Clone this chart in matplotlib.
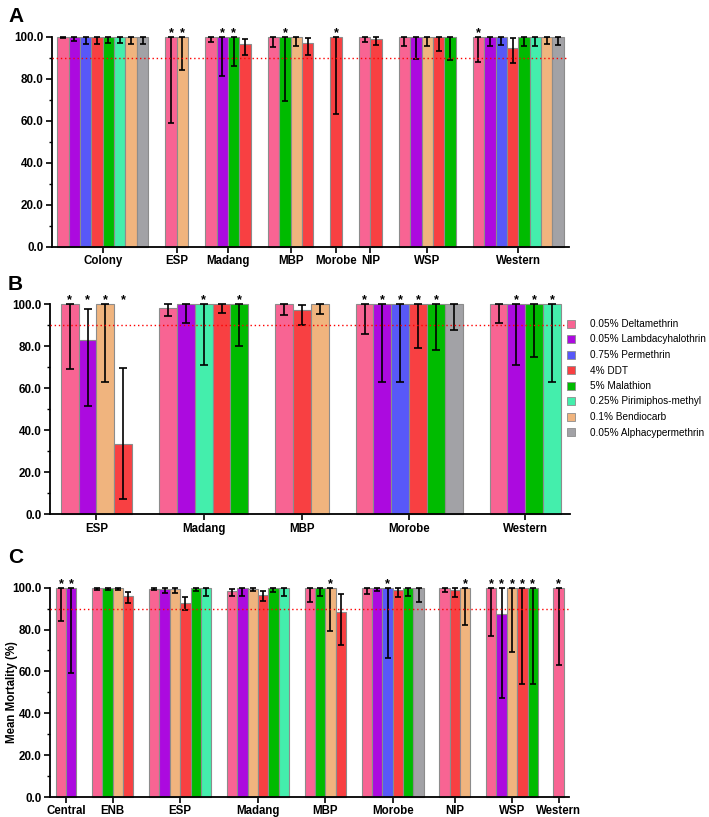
import matplotlib
matplotlib.use('Agg')
import matplotlib.pyplot as plt
from matplotlib.lines import Line2D
from matplotlib.ticker import MultipleLocator, FormatStrFormatter

plt.rcParams['font.family'] = ['Liberation Sans', 'DejaVu Sans']

insecticides = ['0.05% Deltamethrin', '0.05% Lambdacyhalothrin', '0.75% Permethrin',
                '4% DDT', '5% Malathion', '0.25% Pirimiphos-methyl',
                '0.1% Bendiocarb', '0.05% Alphacypermethrin']
colors = ['#F86493', '#AC0ADF', '#5858F8', '#F84042', '#00BB00', '#44EEAC',
          '#F0B47E', '#A2A2A6']

# indices into insecticides: 0 Delta 1 Lambda 2 Perm 3 DDT 4 Mal 5 Piri 6 Bend 7 Alpha
A_groups = ['Colony', 'ESP', 'Madang', 'MBP', 'Morobe', 'NIP', 'WSP', 'Western']
A_ins = [[0, 1, 2, 3, 4, 5, 6, 7], [0, 6], [0, 1, 4, 3], [0, 4, 6, 3], [3], [0, 3],
         [0, 1, 6, 3, 4], [0, 1, 2, 3, 4, 5, 6, 7]]
A_mean = [[100, 100, 100, 100, 100, 100, 100, 100], [100, 100], [100, 100, 100, 96.4],
          [100, 100, 100, 96.8], [100], [100, 99.0], [100, 100, 100, 100, 100],
          [100, 100, 100, 94.4, 100, 100, 100, 100]]
A_lo = [[99.2, 97.8, 96.5, 96.5, 96.8, 97.1, 96.3, 96.5], [59.0, 84.0], [97.5, 81.4, 86.2, 91.1],
        [95.2, 69.2, 95.6, 91.1], [63.0], [97.3, 96.0], [95.6, 89.4, 95.7, 93.0, 88.9],
        [87.8, 95.7, 95.9, 87.6, 95.6, 95.6, 96.5, 96.0]]
A_hi = [[100] * 8, [100, 100], [100, 100, 100, 99.0], [100, 100, 100, 99.2], [100], [100, 100],
        [100] * 5, [100, 100, 100, 99.2, 100, 100, 100, 100]]
A_star = [[0] * 8, [1, 1], [0, 1, 1, 0], [0, 1, 0, 0], [1], [0, 0], [0] * 5,
          [1, 0, 0, 0, 0, 0, 0, 0]]

B_groups = ['ESP', 'Madang', 'MBP', 'Morobe', 'Western']
B_ins = [[0, 1, 6, 3], [0, 1, 5, 3, 4], [0, 3, 6], [0, 1, 2, 3, 4, 7], [0, 1, 4, 5]]
B_mean = [[100, 83.2, 100, 33.3], [98.4, 100, 100, 100, 100], [100, 97.3, 100],
          [100] * 6, [100] * 4]
B_lo = [[69.0, 51.6, 63.0, 7.5], [94.3, 91.0, 71.3, 95.7, 80.2], [94.8, 90.3, 95.2],
        [85.7, 62.9, 62.9, 79.2, 78.1, 87.6], [91.3, 71.3, 75.1, 62.9]]
B_hi = [[100, 97.8, 100, 69.8], [100] * 5, [100, 99.6, 100], [100] * 6, [100] * 4]
B_star = [[1, 1, 1, 1], [0, 0, 1, 0, 1], [0, 0, 0], [1, 1, 1, 1, 1, 0], [0, 1, 1, 1]]

C_groups = ['Central', 'ENB', 'ESP', 'Madang', 'MBP', 'Morobe', 'NIP', 'WSP', 'Western']
C_ins = [[0, 1], [0, 4, 6, 3], [0, 1, 6, 3, 4, 5], [0, 1, 6, 3, 4, 5], [0, 4, 6, 3],
         [0, 1, 2, 3, 4, 7], [0, 3, 6], [0, 1, 6, 3, 4], [0]]
C_mean = [[100, 100], [100, 100, 100, 96.0], [99.5, 99.2, 99.4, 92.8, 100, 100],
          [98.3, 100, 99.6, 96.3, 100, 100], [100, 100, 100, 88.4],
          [100, 100, 100, 98.9, 100, 100], [100, 98.9, 100], [100, 87.6, 100, 100, 100], [100]]
C_lo = [[83.9, 59.1], [98.9, 98.9, 98.9, 92.7], [98.7, 97.3, 97.6, 89.2, 98.6, 96.2],
        [95.9, 96.0, 98.4, 93.5, 97.8, 96.0], [93.2, 95.9, 79.5, 72.6],
        [97.0, 98.6, 66.4, 95.5, 96.0, 93.0], [98.1, 95.4, 82.2],
        [76.8, 47.3, 69.1, 54.0, 54.0], [63.1]]
C_hi = [[100, 100], [100, 100, 100, 98.1], [100, 100, 100, 95.4, 100, 100],
        [99.5, 100, 100, 98.4, 100, 100], [100, 100, 100, 96.8],
        [100, 100, 100, 99.8, 100, 100], [100, 99.8, 100], [100] * 5, [100]]
C_star = [[1, 1], [0] * 4, [0] * 6, [0] * 6, [0, 0, 1, 0], [0, 0, 1, 0, 0, 0], [0, 0, 1],
          [1] * 5, [1]]


def draw_panel(ax, groups, ins, mean, lo, hi, star, off_l, off_r, capsize):
    cur = 0.0
    centers = []
    for g in range(len(groups)):
        xs = [cur + i + 0.5 for i in range(len(ins[g]))]
        cols = [colors[k] for k in ins[g]]
        ax.bar(xs, mean[g], width=1.0, color=cols, edgecolor='#8c8c8c', linewidth=0.8,
               zorder=2, clip_on=False)
        ax.errorbar(xs, mean[g],
                    yerr=[[m - l for m, l in zip(mean[g], lo[g])],
                          [h - m for m, h in zip(mean[g], hi[g])]],
                    fmt='none', ecolor='black', elinewidth=1.2, capsize=capsize,
                    capthick=1.2, zorder=3, clip_on=False)
        for x, s in zip(xs, star[g]):
            if s:
                ax.text(x, 100.3, '*', ha='center', va='baseline', fontsize=9,
                        fontweight='bold', clip_on=False)
        centers.append(cur + len(ins[g]) / 2)
        cur += len(ins[g]) + 1.5
    end = cur - 1.5
    ax.axhline(90, color='red', ls=(0, (1, 2)), lw=1.0, zorder=4)
    ax.set_xlim(-off_l, end + off_r)
    ax.set_ylim(0, 100)
    ax.set_xticks(centers)
    ax.set_xticklabels(groups, fontsize=8.3, fontweight='bold')
    ax.yaxis.set_major_locator(MultipleLocator(20))
    ax.yaxis.set_minor_locator(MultipleLocator(10))
    ax.yaxis.set_major_formatter(FormatStrFormatter('%.1f'))
    for t in ax.get_yticklabels():
        t.set_fontweight('bold')
        t.set_fontsize(8.4)
    ax.tick_params(axis='both', which='major', length=4, width=1.2, pad=2)
    ax.tick_params(axis='y', which='minor', length=2.5, width=1.0)
    ax.spines['top'].set_visible(False)
    ax.spines['right'].set_visible(False)
    ax.spines['left'].set_linewidth(1.3)
    ax.spines['bottom'].set_linewidth(1.3)


fig = plt.figure(figsize=(7.09, 8.17), dpi=100)
W, H = 709.0, 817.0
axA = fig.add_axes([52 / W, (H - 246.7) / H, 517 / W, 210 / H])
axB = fig.add_axes([50 / W, (H - 514.3) / H, 520 / W, 210 / H])
axC = fig.add_axes([50 / W, (H - 797) / H, 519 / W, 209.3 / H])

draw_panel(axA, A_groups, A_ins, A_mean, A_lo, A_hi, A_star, 0.45, 0.45, 2.2)
draw_panel(axB, B_groups, B_ins, B_mean, B_lo, B_hi, B_star, 0.6, 0.5, 3.0)
draw_panel(axC, C_groups, C_ins, C_mean, C_lo, C_hi, C_star, 0.55, 0.5, 2.2)

axC.set_ylabel('Mean Mortality (%)', fontsize=8.3, fontweight='bold')
axC.yaxis.set_label_coords(-0.062, 0.5)

for lab, y in [('A', 7), ('B', 275), ('C', 548)]:
    fig.text(8 / W, 1 - y / H, lab, fontsize=15, fontweight='bold', va='top', ha='left')

handles = [Line2D([], [], marker='s', ls='none', markersize=6, markerfacecolor=c,
                  markeredgecolor='#8c8c8c', markeredgewidth=0.6) for c in colors]
fig.legend(handles, insecticides, loc='upper left', bbox_to_anchor=(566 / W, 1 - 319 / H),
           frameon=False, fontsize=7.2, handlelength=1.0, handletextpad=1.4,
           labelspacing=0.55, borderaxespad=0, borderpad=0)

fig.savefig('out.png', dpi=100)
